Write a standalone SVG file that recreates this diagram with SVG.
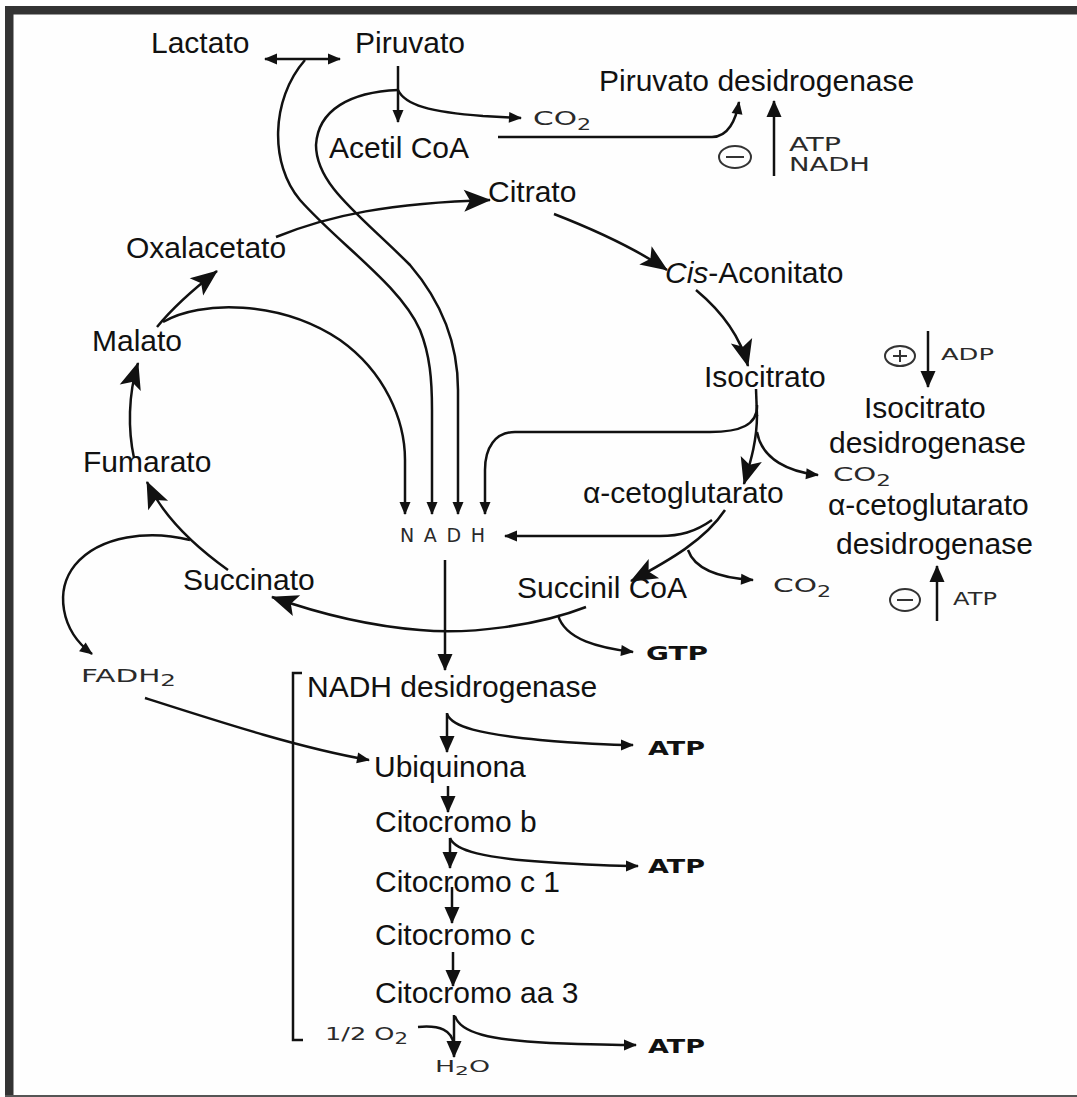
<svg xmlns="http://www.w3.org/2000/svg" width="1077" height="1097" viewBox="0 0 1077 1097">
<defs>
<style>
.t{font-family:"Liberation Sans",Arial,sans-serif;font-size:30px;fill:#111}
.s{font-family:"DejaVu Sans","Liberation Sans",sans-serif;fill:#2a2a2a}
.b{font-family:"DejaVu Sans","Liberation Sans",sans-serif;font-weight:bold;font-size:20px;fill:#111}
.l{fill:none;stroke:#111;stroke-width:2.5}
.sm{marker-end:url(#ms)}
.md{marker-end:url(#mm)}
.bg{marker-end:url(#mb)}
.sign{fill:none;stroke:#333;stroke-width:2}
</style>
<marker id="ms" markerUnits="userSpaceOnUse" orient="auto" overflow="visible" markerWidth="1" markerHeight="1"><path d="M1,0 L-12,-5.5 L-12,5.5 z" fill="#111"/></marker>
<marker id="ms2" markerUnits="userSpaceOnUse" orient="auto-start-reverse" overflow="visible" markerWidth="1" markerHeight="1"><path d="M1,0 L-12,-5.5 L-12,5.5 z" fill="#111"/></marker>
<marker id="mm" markerUnits="userSpaceOnUse" orient="auto" overflow="visible" markerWidth="1" markerHeight="1"><path d="M1,0 L-16,-7.5 L-16,7.5 z" fill="#111"/></marker>
<marker id="mb" markerUnits="userSpaceOnUse" orient="auto" overflow="visible" markerWidth="1" markerHeight="1"><path d="M1,0 L-26,-11 L-20,0 L-26,11 z" fill="#111"/></marker>
</defs>
<rect x="0" y="0" width="1077" height="1097" fill="#fefefe"/>
<g id="frame">
<rect x="5" y="6" width="1072" height="8.5" fill="#333"/>
<rect x="5" y="6" width="8.5" height="1091" fill="#333"/>
<rect x="5" y="1095" width="1072" height="2" fill="#555"/>
</g>

<g id="connectors">
<!-- Lactato <-> Piruvato -->
<path class="l" d="M265,59 L340,59" marker-start="url(#ms2)" marker-end="url(#ms2)"/>
<!-- Lactato/Piruvato to NADH -->
<path class="l sm" d="M305,60 C270,100 270,165 300,200 C340,245 400,285 420,330 C430,355 432,380 432,410 L432,514"/>
<!-- Piruvato to Acetil CoA -->
<path class="l sm" d="M398,66 L398,122"/>
<path class="l sm" d="M398,90 C350,92 318,110 316,145 C316,185 360,215 410,265 C440,300 458,340 458,390 L458,514"/>
<path class="l sm" d="M398,90 C405,105 430,112 483,116 L521,118"/>
<!-- Acetil CoA to Piruvato desidrogenase -->
<path class="l sm" d="M498,137 L712,137 C728,137 736,120 739,102"/>
<path class="l md" d="M774,176 L774,101"/>
<!-- cycle -->
<path class="l bg" d="M276,237 C330,215 390,203 490,200"/>
<path class="l bg" d="M554,214 C590,228 630,245 667,270"/>
<path class="l bg" d="M696,290 C720,310 740,335 748,366"/>
<path class="l bg" d="M757,415 C757,440 751,460 744,484"/>
<path class="l bg" d="M725,510 C705,540 670,560 631,581"/>
<path class="l bg" d="M586,607 C540,625 470,635 420,630 C370,626 320,614 272,597"/>
<path class="l bg" d="M228,570 C200,550 165,520 147,482"/>
<path class="l bg" d="M134,458 C128,430 128,395 138,363"/>
<path class="l bg" d="M157,327 C175,305 195,288 217,271"/>
<!-- Malato to NADH -->
<path class="l sm" d="M163,322 C200,300 280,300 340,340 C385,372 405,420 405,460 L405,514"/>
<!-- Isocitrato -->
<path class="l" d="M756,389 L757,416"/>
<path class="l sm" d="M757,405 C758,425 740,432 710,432 L515,432 C495,432 485,448 485,470 L485,514"/>
<path class="l sm" d="M757,432 C762,460 790,472 818,475"/>
<!-- alpha-ceto -->
<path class="l sm" d="M712,520 C695,532 680,536 660,536 L505,536"/>
<path class="l sm" d="M688,550 C695,570 720,578 753,580"/>
<!-- Succinil CoA to GTP -->
<path class="l sm" d="M558,615 C565,640 600,648 633,652"/>
<!-- Succinato to FADH2 -->
<path class="l sm" d="M190,540 C150,530 100,535 75,565 C55,590 60,630 92,654"/>
<!-- FADH2 to Ubiquinona -->
<path class="l sm" d="M145,698 C220,722 300,748 369,760"/>
<!-- NADH to chain -->
<path class="l md" d="M445,560 L445,670"/>
<!-- bracket -->
<path class="l" d="M302,673 L293,673 L293,1040 L303,1040"/>
<!-- chain -->
<path class="l md" d="M447,713 L447,752"/>
<path class="l sm" d="M447,714 C452,727 480,734 540,740 C575,743 600,745 633,745"/>
<path class="l md" d="M448,786 L448,812"/>
<path class="l md" d="M450,838 L450,868"/>
<path class="l sm" d="M450,838 C455,851 485,858 545,862 C575,864 605,866 638,866"/>
<path class="l md" d="M452,887 L452,923"/>
<path class="l md" d="M453,952 L453,986"/>
<path class="l md" d="M454,1015 L454,1057"/>
<path class="l sm" d="M455,1016 C460,1033 490,1040 550,1043 C580,1044 610,1045 636,1045"/>
<path class="l" d="M418,1027 C440,1025 452,1030 454,1045"/>
</g>

<g id="n-lactato"><text class="t" x="151" y="53">Lactato</text></g>
<g id="n-piruvato"><text class="t" x="355" y="53">Piruvato</text></g>
<g id="n-pdh"><text class="t" x="599" y="91">Piruvato desidrogenase</text></g>
<g id="n-co2a"><text class="s" x="533" y="125" font-size="20" textLength="58" lengthAdjust="spacingAndGlyphs">CO<tspan dy="5" font-size="15">2</tspan></text></g>
<g id="n-acetil"><text class="t" x="329" y="158">Acetil CoA</text></g>
<g id="n-inhib1">
<ellipse class="sign" cx="735" cy="157" rx="16" ry="11"/>
<line class="sign" x1="726" y1="157" x2="744" y2="157"/>
<text class="s" x="789" y="151" font-size="19" textLength="52" lengthAdjust="spacingAndGlyphs">ATP</text>
<text class="s" x="789" y="171" font-size="19" textLength="81" lengthAdjust="spacingAndGlyphs">NADH</text>
</g>
<g id="n-citrato"><text class="t" x="488" y="202">Citrato</text></g>
<g id="n-oxal"><text class="t" x="126" y="258">Oxalacetato</text></g>
<g id="n-cis"><text class="t" x="665" y="283"><tspan font-style="italic">Cis</tspan>-Aconitato</text></g>
<g id="n-malato"><text class="t" x="92" y="351" font-size="34">Malato</text></g>
<g id="n-isocitrato"><text class="t" x="704" y="387">Isocitrato</text></g>
<g id="n-adp">
<ellipse class="sign" cx="900" cy="356" rx="15" ry="10"/>
<line class="sign" x1="893" y1="356" x2="907" y2="356"/>
<line class="sign" x1="900" y1="350" x2="900" y2="362"/>
<path class="l md" d="M928,331 L928,387"/>
<text class="s" x="941" y="360" font-size="16" textLength="53" lengthAdjust="spacingAndGlyphs">ADP</text>
</g>
<g id="n-idh"><text class="t" x="864" y="418">Isocitrato</text><text class="t" x="829" y="453">desidrogenase</text></g>
<g id="n-fumarato"><text class="t" x="83" y="472">Fumarato</text></g>
<g id="n-co2b"><text class="s" x="833" y="481" font-size="19" textLength="58" lengthAdjust="spacingAndGlyphs">CO<tspan dy="5" font-size="15">2</tspan></text></g>
<g id="n-akg"><text class="t" x="583" y="503">α-cetoglutarato</text></g>
<g id="n-akgdh"><text class="t" x="828" y="515">α-cetoglutarato</text><text class="t" x="836" y="554">desidrogenase</text></g>
<g id="n-nadh"><text class="s" x="400" y="542" font-size="19" textLength="90" lengthAdjust="spacing" letter-spacing="5">NADH</text></g>
<g id="n-succinato"><text class="t" x="183" y="590">Succinato</text></g>
<g id="n-succinil"><text class="t" x="517" y="598">Succinil CoA</text></g>
<g id="n-co2c"><text class="s" x="773" y="592" font-size="20" textLength="58" lengthAdjust="spacingAndGlyphs">CO<tspan dy="5" font-size="15">2</tspan></text></g>
<g id="n-inhib2">
<ellipse class="sign" cx="905" cy="600" rx="15" ry="11"/>
<line class="sign" x1="897" y1="600" x2="913" y2="600"/>
<path class="l md" d="M937,621 L937,566"/>
<text class="s" x="953" y="605" font-size="17" textLength="44" lengthAdjust="spacingAndGlyphs">ATP</text>
</g>
<g id="n-gtp"><text class="b" x="646" y="660" textLength="62" lengthAdjust="spacingAndGlyphs">GTP</text></g>
<g id="n-fadh2"><text class="s" x="81" y="682" font-size="18" textLength="95" lengthAdjust="spacingAndGlyphs">FADH<tspan dy="4" font-size="15">2</tspan></text></g>
<g id="n-nadhdh"><text class="t" x="307" y="697">NADH desidrogenase</text></g>
<g id="n-atp1"><text class="b" x="648" y="755" textLength="57" lengthAdjust="spacingAndGlyphs">ATP</text></g>
<g id="n-ubiq"><text class="t" x="374" y="777">Ubiquinona</text></g>
<g id="n-citb"><text class="t" x="375" y="832">Citocromo b</text></g>
<g id="n-atp2"><text class="b" x="648" y="873" textLength="57" lengthAdjust="spacingAndGlyphs">ATP</text></g>
<g id="n-citc1"><text class="t" x="375" y="892">Citocromo c 1</text></g>
<g id="n-citc"><text class="t" x="375" y="945">Citocromo c</text></g>
<g id="n-citaa3"><text class="t" x="375" y="1003">Citocromo aa 3</text></g>
<g id="n-o2"><text class="s" x="325" y="1040" font-size="18" textLength="83" lengthAdjust="spacingAndGlyphs">1/2 O<tspan dy="4" font-size="15">2</tspan></text></g>
<g id="n-atp3"><text class="b" x="648" y="1053" textLength="57" lengthAdjust="spacingAndGlyphs">ATP</text></g>
<g id="n-h2o"><text class="s" x="435" y="1072" font-size="16" textLength="55" lengthAdjust="spacingAndGlyphs">H<tspan dy="3" font-size="13">2</tspan><tspan dy="-3">O</tspan></text></g>
</svg>
